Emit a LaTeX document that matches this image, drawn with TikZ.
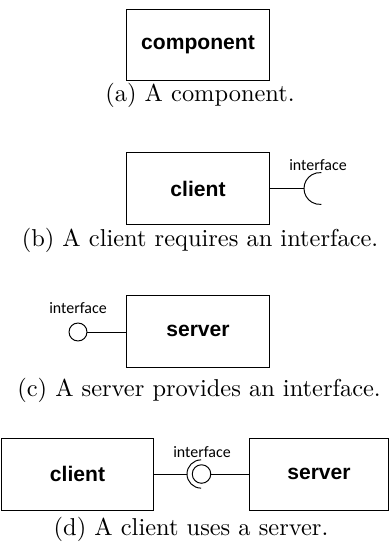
\documentclass[tikz,border=0pt]{standalone}
\usepackage{fontspec}
\newfontfamily\compfont{Liberation Sans}
\newfontfamily\ifcfont{Carlito}

\begin{document}
\begin{tikzpicture}[x=0.389pt,y=0.389pt,line width=0.38pt,
  comp/.style={draw,minimum width=56pt,minimum height=28pt,inner sep=0pt,
    font=\compfont\bfseries\fontsize{8.2}{10}\selectfont},
  ifc/.style={inner sep=0pt,font=\ifcfont\fontsize{6.2}{7}\selectfont},
  ball/.style={draw,circle,minimum size=7pt,inner sep=0pt},
  subcap/.style={inner sep=0pt,font=\fontsize{9.5}{11}\selectfont}]
\useasboundingbox (0,0) rectangle (389,-547);
% (a)
\node[comp] (comp) at (198,-45) {component};
\node[subcap] (capa) at (200,-95) {(a) A component.};
% (b)
\node[comp] (clientb) at (198,-188.5) {client};
\coordinate (reqb) at (304,-188.5);
\node[ifc] (ifcb) at (318,-165) {interface};
\draw (clientb.east) -- (reqb);
\draw (reqb) arc[start angle=180,end angle=85,radius=6.2pt]
  (reqb) arc[start angle=180,end angle=275,radius=6.2pt];
\node[subcap] (capb) at (200,-240) {(b) A client requires an interface.};
% (c)
\node[comp] (serverc) at (198,-331) {server};
\node[ball] (provc) at (78,-332) {};
\node[ifc] (ifcc) at (78,-308) {interface};
\draw (provc) -- (provc -| serverc.west);
\node[subcap] (capc) at (199,-390) {(c) A server provides an interface.};
% (d)
\node[comp,minimum width=59.5pt] (clientd) at (77.5,-474) {client};
\node[comp,minimum width=53.7pt] (serverd) at (319,-474) {server};
\node[ball,minimum size=7.2pt] (provd) at (201.5,-474) {};
\coordinate (reqd) at (187,-474);
\node[ifc] (ifcd) at (202,-452) {interface};
\draw (clientd.east) -- (reqd);
\draw (reqd) arc[start angle=180,end angle=90,radius=5.5pt]
  (reqd) arc[start angle=180,end angle=270,radius=5.5pt];
\draw (provd) -- (serverd);
\node[subcap] (capd) at (191,-529) {(d) A client uses a server.};
\end{tikzpicture}
\end{document}
